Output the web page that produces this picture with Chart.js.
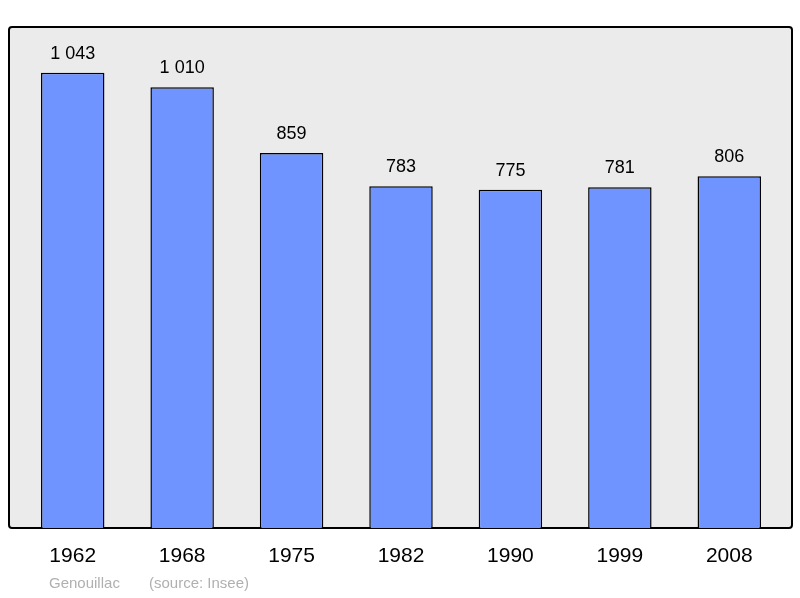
<!DOCTYPE html>
<html>
<head>
<meta charset="utf-8">
<script src="https://cdn.jsdelivr.net/npm/chart.js@4"></script>
<style>
  html, body { margin: 0; padding: 0; background: #fff; }
  #wrap { width: 800px; height: 598px; }
</style>
</head>
<body>
<div id="wrap"><canvas id="popChart" width="800" height="598"></canvas></div>
<script>
// Population data (Insee)
const years = ['1962', '1968', '1975', '1982', '1990', '1999', '2008'];
const population = [1043, 1010, 859, 783, 775, 781, 806];
const valueLabels = ['1 043', '1 010', '859', '783', '775', '781', '806'];
const yMax = 1148;

// draws the grey frame behind the bars, a bit wider than the chart area
const framePlugin = {
  id: 'frame',
  beforeDatasetsDraw(chart) {
    const { ctx, chartArea: a } = chart;
    ctx.save();
    ctx.beginPath();
    ctx.roundRect(a.left - 9, a.top, (a.right + 8) - (a.left - 9), a.bottom - a.top, 3);
    ctx.fillStyle = '#ebebeb';
    ctx.fill();
    ctx.lineWidth = 2;
    ctx.strokeStyle = '#000';
    ctx.stroke();
    ctx.restore();
  }
};

// value labels above bars, year labels below, footer text
const labelPlugin = {
  id: 'labels',
  afterDatasetsDraw(chart) {
    const { ctx, chartArea: a } = chart;
    const x = chart.scales.x, y = chart.scales.y;
    ctx.save();
    ctx.textAlign = 'center';
    ctx.fillStyle = '#000';
    ctx.font = '18px "Liberation Sans", Arial, sans-serif';
    ctx.textBaseline = 'alphabetic';
    population.forEach((v, i) => {
      ctx.fillText(valueLabels[i], x.getPixelForValue(i), y.getPixelForValue(v) - 14);
    });
    ctx.font = '21px "Liberation Sans", Arial, sans-serif';
    ctx.textBaseline = 'middle';
    years.forEach((yr, i) => {
      ctx.fillText(yr, x.getPixelForValue(i), a.bottom + 28);
    });
    ctx.textAlign = 'left';
    ctx.fillStyle = '#b0b0b0';
    ctx.font = '15px "Liberation Sans", Arial, sans-serif';
    ctx.fillText('Genouillac', 49, a.bottom + 56);
    ctx.fillText('(source: Insee)', 149, a.bottom + 56);
    ctx.restore();
  }
};

new Chart(document.getElementById('popChart'), {
  type: 'bar',
  data: {
    labels: years,
    datasets: [{
      data: population,
      backgroundColor: '#7094ff',
      borderColor: '#000',
      borderWidth: 1.5,
      borderSkipped: 'bottom',
      barPercentage: 0.58,
      categoryPercentage: 1
    }]
  },
  options: {
    responsive: false,
    animation: false,
    layout: { padding: { left: 18, right: 16, top: 27, bottom: 70 } },
    plugins: { legend: { display: false }, tooltip: { enabled: false } },
    scales: {
      x: { display: false },
      y: { display: false, min: 0, max: yMax }
    }
  },
  plugins: [framePlugin, labelPlugin]
});
</script>
</body>
</html>
